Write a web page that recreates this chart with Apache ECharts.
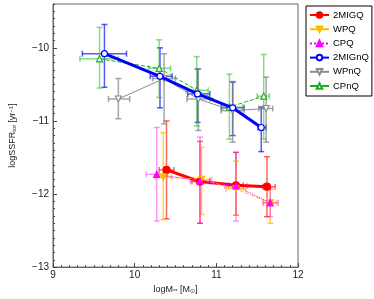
<!DOCTYPE html>
<html>
<head>
<meta charset="utf-8">
<script src="https://cdn.jsdelivr.net/npm/echarts@6/dist/echarts.min.js"></script>
<style>html,body{margin:0;padding:0;background:#fff}#c{width:374px;height:299px}</style>
</head>
<body>
<div id="c"></div>
<script>
// rows: [logM, logSSFR, xLow, xHigh, yHigh, yLow]
const seriesNames = ['2MIGQ', 'WPQ', 'CPQ', '2MIGnQ', 'WPnQ', 'CPnQ'];
const mig_q = [
  [10.39, -11.67, 10.30, 10.48, -11.00, -12.34],
  [10.80, -11.83, 10.70, 10.92, -11.28, -12.40],
  [11.24, -11.88, 11.15, 11.33, -11.43, -12.29],
  [11.62, -11.90, 11.57, 11.72, -11.49, -12.31]
];
const wp_q = [
  [10.35, -11.77, 10.25, 10.45, -11.16, -12.35],
  [10.82, -11.80, 10.72, 10.94, -11.36, -12.28],
  [11.24, -11.93, 11.12, 11.36, -11.55, -12.29],
  [11.66, -12.12, 11.58, 11.74, -11.94, -12.40]
];
const cp_q = [
  [10.27, -11.73, 10.14, 10.40, -11.09, -12.37],
  [10.80, -11.82, 10.68, 10.92, -11.22, -12.40],
  [11.24, -11.89, 11.10, 11.38, -11.43, -12.37],
  [11.66, -12.12, 11.57, 11.76, -11.92, -12.31]
];
const mig_nq = [
  [9.63, -10.08, 9.36, 9.90, -9.68, -10.54],
  [10.31, -10.39, 10.19, 10.46, -10.00, -10.82],
  [10.77, -10.63, 10.65, 10.92, -10.29, -11.02],
  [11.20, -10.82, 11.06, 11.34, -10.47, -11.20],
  [11.55, -11.09, 11.51, 11.61, -10.81, -11.42]
];
const wp_nq = [
  [9.80, -10.70, 9.68, 9.94, -10.42, -10.97],
  [10.36, -10.42, 10.22, 10.50, -10.08, -11.04],
  [10.78, -10.70, 10.64, 10.92, -10.29, -11.13],
  [11.20, -10.86, 11.06, 11.34, -10.46, -11.29],
  [11.61, -10.83, 11.52, 11.69, -10.40, -11.29]
];
const cp_nq = [
  [9.57, -10.15, 9.33, 9.80, -9.72, -10.55],
  [10.30, -10.28, 10.17, 10.44, -9.89, -10.68],
  [10.76, -10.58, 10.63, 10.90, -10.12, -11.07],
  [11.16, -10.81, 11.08, 11.32, -10.36, -11.25],
  [11.58, -10.66, 11.50, 11.65, -10.09, -11.25]
];
const xTicks = [9, 10, 11, 12];
const yTicks = [-13, -12, -11, -10];

const datasets = [mig_q, wp_q, cp_q, mig_nq, wp_nq, cp_nq];
const downTri = 'path://M0,0 L10,0 L5,9 Z';
const styles = [
  {color: '#ff0000', bar: 'rgba(255,0,0,0.6)', width: 3, type: 'solid', symbol: 'circle', size: 7, fill: '#ff0000'},
  {color: '#ffbb00', bar: 'rgba(255,190,0,0.7)', width: 1, type: 'dashed', symbol: downTri, size: 6, fill: '#ffbb00'},
  {color: '#ff00ff', bar: 'rgba(255,0,255,0.4)', width: 1, type: 'dotted', symbol: 'triangle', size: 6, fill: '#ff00ff'},
  {color: '#0000ff', bar: 'rgba(0,0,255,0.65)', width: 3, type: 'solid', symbol: 'circle', size: 6, fill: '#ffffff'},
  {color: '#8c8c8c', bar: 'rgba(130,130,130,0.7)', width: 1, type: 'solid', symbol: downTri, size: 6, fill: '#ffffff'},
  {color: '#22aa22', bar: 'rgba(40,190,40,0.55)', width: 1, type: 'dashed', symbol: 'triangle', size: 6, fill: '#ffffff'}
];

function errRender(color) {
  return function (params, api) {
    const x = api.value(0), y = api.value(1);
    const p = api.coord([x, y]);
    const pl = api.coord([api.value(2), y]);
    const pr = api.coord([api.value(3), y]);
    const pt = api.coord([x, api.value(4)]);
    const pb = api.coord([x, api.value(5)]);
    const c = 3;
    const st = {stroke: color, lineWidth: 1.5};
    const L = (x1, y1, x2, y2) => ({type: 'line', shape: {x1, y1, x2, y2}, style: st});
    return {
      type: 'group',
      children: [
        L(p[0], pt[1], p[0], pb[1]),
        L(p[0] - c, pt[1], p[0] + c, pt[1]),
        L(p[0] - c, pb[1], p[0] + c, pb[1]),
        L(pl[0], p[1], pr[0], p[1]),
        L(pl[0], p[1] - c, pl[0], p[1] + c),
        L(pr[0], p[1] - c, pr[0], p[1] + c)
      ]
    };
  };
}

const series = [];
datasets.forEach((d, i) => {
  const s = styles[i];
  series.push({
    type: 'custom',
    name: 'err' + i,
    xAxisIndex: 0, yAxisIndex: 0,
    renderItem: errRender(s.bar),
    data: d,
    encode: {x: [0, 2, 3], y: [1, 4, 5]},
    z: 2,
    silent: true
  });
});
datasets.forEach((d, i) => {
  const s = styles[i];
  series.push({
    type: 'line',
    name: seriesNames[i],
    xAxisIndex: 0, yAxisIndex: 0,
    data: d.map(r => [r[0], r[1]]),
    symbol: s.symbol,
    symbolSize: s.size,
    showAllSymbol: true,
    lineStyle: {color: s.color, width: s.width, type: s.type},
    itemStyle: {color: s.fill, borderColor: s.color, borderWidth: 1.2},
    z: 3 + (i === 3 ? 2 : 0),
    animation: false
  });
});

const minus = v => String(v).replace('-', '\u2212');
const font = 'Liberation Sans';

const option = {
  animation: false,
  grid: {left: 49, right: 76, top: 4, bottom: 29, show: true, borderColor: '#666', borderWidth: 1},
  legend: {
    data: seriesNames,
    orient: 'vertical',
    left: 306, top: 6,
    padding: [4, 3, 5, 3],
    itemWidth: 19, itemHeight: 7, itemGap: 4.2,
    borderColor: '#000', borderWidth: 1,
    textStyle: {fontSize: 9.5, lineHeight: 10, fontFamily: font, color: '#000', padding: [0, 0, 0, -1]}
  },
  xAxis: [
    {
      type: 'value', min: 9, max: 12, interval: 1,
      axisLine: {show: true, lineStyle: {color: '#666'}},
      axisTick: {inside: true, length: 4, lineStyle: {color: '#444'}},
      splitLine: {show: false},
      axisLabel: {fontSize: 10, fontFamily: font, color: '#222', margin: 3},
      name: '{a|logM}{s|**}{a| [M}{s|\u2299}{a|]}',
      nameLocation: 'middle', nameGap: 15,
      nameTextStyle: {rich: {a: {fontSize: 9, fontFamily: font, color: '#222'}, s: {fontSize: 6, fontFamily: font, color: '#222', verticalAlign: 'bottom'}}}
    },
    {
      type: 'value', min: 9, max: 12, interval: 0.1, position: 'bottom',
      axisLine: {show: false}, axisLabel: {show: false}, splitLine: {show: false},
      axisTick: {inside: true, length: 2, lineStyle: {color: '#444'}}
    }
  ],
  yAxis: [
    {
      type: 'value', min: -13, max: -9.4, interval: 1,
      axisLine: {show: true, lineStyle: {color: '#666'}},
      axisTick: {inside: true, length: 4, lineStyle: {color: '#444'}},
      splitLine: {show: false},
      axisLabel: {fontSize: 10, fontFamily: font, color: '#222', margin: 4, showMaxLabel: false, formatter: v => minus(v)},
      name: '{a|logSSFR}{s|tot}{a| [yr}{u|\u22121}{a|]}',
      nameLocation: 'middle', nameGap: 36, nameRotate: 90,
      nameTextStyle: {rich: {a: {fontSize: 9, fontFamily: font, color: '#222'}, s: {fontSize: 6, fontFamily: font, color: '#222', verticalAlign: 'bottom'}, u: {fontSize: 6, fontFamily: font, color: '#222', verticalAlign: 'top'}}}
    },
    {
      type: 'value', min: -13, max: -9.4, interval: 0.1, position: 'left',
      axisLine: {show: false}, axisLabel: {show: false}, splitLine: {show: false},
      axisTick: {inside: true, length: 2, lineStyle: {color: '#444'}}
    }
  ],
  series: series
};
const chart = echarts.init(document.getElementById('c'), null, {renderer: 'canvas'});
chart.setOption(option);
</script>
</body>
</html>
